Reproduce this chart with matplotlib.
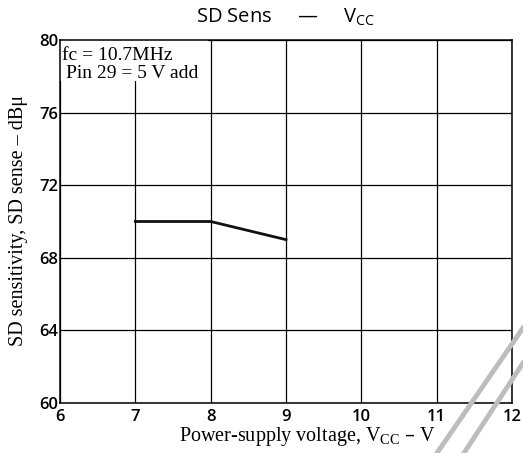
import matplotlib
matplotlib.use("Agg")
import matplotlib.pyplot as plt
from matplotlib.patches import Rectangle
from matplotlib.lines import Line2D

vcc = [7, 8, 9]
sens = [70, 70, 69]
xticks = [6, 7, 8, 9, 10, 11, 12]
yticks = [60, 64, 68, 72, 76, 80]

fig = plt.figure(figsize=(5.23, 4.53), dpi=100)
ax = fig.add_axes([60/523, 50/453, 452/523, 363/453])
ax.set_xlim(6, 12)
ax.set_ylim(60, 80)
ax.set_xticks(xticks)
ax.set_yticks(yticks)
ax.set_xticklabels([str(t) for t in xticks], fontsize=12, family='Open Sans', fontweight='semibold')
ax.set_yticklabels([str(t) for t in yticks], fontsize=12, family='Open Sans', fontweight='semibold')
ax.tick_params(length=0)
ax.tick_params(axis='y', pad=1)
ax.tick_params(axis='x', pad=4)
ax.grid(True, color='black', linewidth=0.9, zorder=1)
ax.set_axisbelow(True)
for s in ax.spines.values():
    s.set_linewidth(1.1)

ax.plot(vcc, sens, color='#111111', linewidth=2.0, zorder=3)

ax.add_patch(Rectangle((6, 77.75), 1.97, 2.25, facecolor='white', edgecolor='none', zorder=2))
ax.text(6.02, 79.15, "fc = 10.7MHz", family='Liberation Serif', fontsize=14, va='center', ha='left', zorder=4)
ax.text(6.08, 78.15, "Pin 29 = 5 V add", family='Liberation Serif', fontsize=14, va='center', ha='left', zorder=4)

fig.text(286/523, 1 - 17/453, "SD Sens     —     V$_{\\mathregular{CC}}$", family='Open Sans',
         fontsize=14.5, ha='center', va='center')
fig.text(307/523, 1 - 436/453, "Power-supply voltage, V$_{\\mathregular{CC}}$ – V", family='Liberation Serif',
         fontsize=14.5, ha='center', va='center')
fig.text(19/523, 1 - 221/453, "SD sensitivity, SD sense – dBμ", family='Liberation Serif',
         fontsize=14.5, ha='center', va='center', rotation=90)

# decorative gray strokes
fig.add_artist(Line2D([437/523, 1.0], [0, (453-328)/453], transform=fig.transFigure,
                      color='#bdbdbd', linewidth=3.5))
fig.add_artist(Line2D([464/523, 1.0], [0, (453-363)/453], transform=fig.transFigure,
                      color='#bdbdbd', linewidth=3.5))

fig.savefig("out.png", dpi=100)
